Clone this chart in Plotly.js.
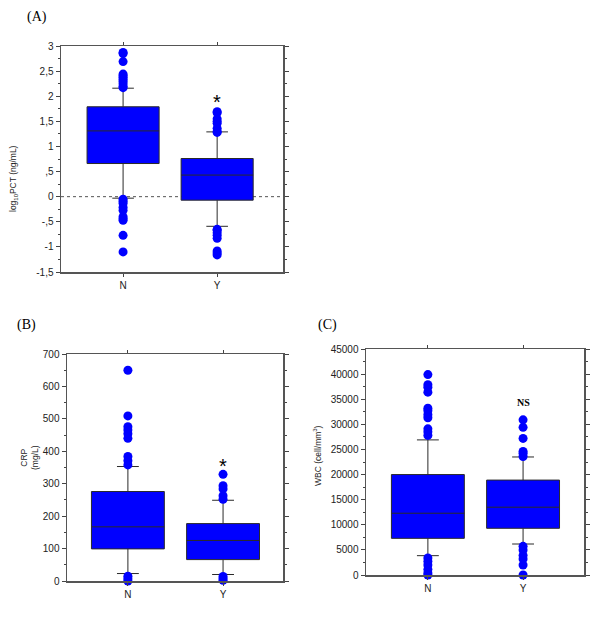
<!DOCTYPE html>
<html>
<head>
<meta charset="utf-8">
<script src="https://cdn.plot.ly/plotly-3.0.1.min.js"></script>
<style>html,body{margin:0;padding:0;background:#fff;}#chart{width:600px;height:634px;}</style>
</head>
<body>
<div id="chart"></div>
<script>
// ---- data ----
const groups = ['N', 'Y'];

// (A) log10 PCT (ng/mL)
const pctQ1 = [0.66, -0.07];
const pctMedian = [1.31, 0.43];
const pctQ3 = [1.79, 0.76];
const pctLowWhisker = [-0.03, -0.59];
const pctHighWhisker = [2.16, 1.29];
const pctOutliersN = [2.87, 2.85, 2.69, 2.44, 2.41, 2.38, 2.34, 2.30, 2.25, 2.20, 2.17, -0.05, -0.09, -0.13, -0.21, -0.27, -0.40, -0.44, -0.47, -0.77, -1.10];
const pctOutliersY = [1.69, 1.67, 1.55, 1.50, 1.46, 1.36, 1.30, 1.28, -0.65, -0.67, -0.72, -0.77, -0.83, -1.08, -1.12, -1.16];

// (B) CRP (mg/L)
const crpQ1 = [99, 66];
const crpMedian = [167, 125];
const crpQ3 = [276, 177];
const crpLowWhisker = [23, 20];
const crpHighWhisker = [353, 249];
const crpOutliersN = [650, 509, 476, 466, 454, 440, 384, 371, 358, 15, 7, 0];
const crpOutliersY = [329, 294, 284, 263, 252, 14, 8, 2];

// (C) WBC (cell/mm3)
const wbcQ1 = [7300, 9300];
const wbcMedian = [12300, 13500];
const wbcQ3 = [20000, 18900];
const wbcLowWhisker = [3850, 6170];
const wbcHighWhisker = [26900, 23500];
const wbcOutliersN = [39900, 37900, 37400, 36400, 33200, 32700, 31900, 31300, 29100, 28500, 27800, 3400, 2700, 2000, 1100, 400, 0];
const wbcOutliersY = [30900, 29400, 27200, 24600, 24200, 23600, 5700, 5000, 3900, 3200, 2000, 0];

// tick labels
const pctTickVals = [3, 2.5, 2, 1.5, 1, 0.5, 0, -0.5, -1, -1.5];
const pctTickText = ['3', '2,5', '2', '1,5', '1', ',5', '0', '-,5', '-1', '-1,5'];
const crpTickVals = [0, 100, 200, 300, 400, 500, 600, 700];
const crpTickText = ['0', '100', '200', '300', '400', '500', '600', '700'];
const wbcTickVals = [0, 5000, 10000, 15000, 20000, 25000, 30000, 35000, 40000, 45000];
const wbcTickText = ['0', '5000', '10000', '15000', '20000', '25000', '30000', '35000', '40000', '45000'];

// ---- styling helpers ----
const W = 600, H = 634;
const px = v => v / W;
const py = v => 1 - v / H;
const BLUE = '#0000FF';
const FONT = 'Liberation Sans, Arial, sans-serif';
const SERIF = 'Liberation Serif, Times New Roman, serif';

function boxTrace(xa, ya, q1, med, q3, lo, hi) {
  return {
    type: 'box', xaxis: xa, yaxis: ya, x: groups,
    q1: q1, median: med, q3: q3, lowerfence: lo, upperfence: hi,
    boxpoints: false, width: 0.766, whiskerwidth: 0.3,
    fillcolor: BLUE, line: {color: '#2a2a2a', width: 1},
    showlegend: false, hoverinfo: 'skip'
  };
}
function outlierTrace(xa, ya, group, vals) {
  return {
    type: 'scatter', mode: 'markers', xaxis: xa, yaxis: ya,
    x: vals.map(() => group), y: vals,
    marker: {color: BLUE, size: 9, line: {width: 0}},
    cliponaxis: false, showlegend: false, hoverinfo: 'skip'
  };
}

const data = [
  boxTrace('x', 'y', pctQ1, pctMedian, pctQ3, pctLowWhisker, pctHighWhisker),
  outlierTrace('x', 'y', 'N', pctOutliersN),
  outlierTrace('x', 'y', 'Y', pctOutliersY),
  boxTrace('x2', 'y2', crpQ1, crpMedian, crpQ3, crpLowWhisker, crpHighWhisker),
  outlierTrace('x2', 'y2', 'N', crpOutliersN),
  outlierTrace('x2', 'y2', 'Y', crpOutliersY),
  boxTrace('x3', 'y3', wbcQ1, wbcMedian, wbcQ3, wbcLowWhisker, wbcHighWhisker),
  outlierTrace('x3', 'y3', 'N', wbcOutliersN),
  outlierTrace('x3', 'y3', 'Y', wbcOutliersY)
];

function xAxis(domain, anchor, range) {
  return {
    domain: domain, anchor: anchor, type: 'category', categoryorder: 'array', categoryarray: groups,
    range: range, showline: true, linecolor: '#555555', linewidth: 1.5, mirror: 'ticks',
    ticks: 'outside', ticklen: 3, tickcolor: '#444', tickwidth: 1,
    showgrid: false, zeroline: false, fixedrange: true,
    tickfont: {family: FONT, size: 10, color: '#222'}
  };
}
function yAxis(domain, anchor, range, tickvals, ticktext, minorDtick) {
  return {
    domain: domain, anchor: anchor, range: range,
    tickmode: 'array', tickvals: tickvals, ticktext: ticktext,
    showline: true, linecolor: '#555555', linewidth: 1.5, mirror: 'ticks',
    ticks: 'outside', ticklen: 4, tickcolor: '#444', tickwidth: 1,
    showgrid: false, zeroline: false, fixedrange: true,
    tickfont: {family: FONT, size: 10, color: '#222'},
    minor: {tickmode: 'linear', tick0: 0, dtick: minorDtick, ticks: 'outside', ticklen: 2, tickcolor: '#444', showgrid: false}
  };
}

const layout = {
  width: W, height: H,
  margin: {l: 0, r: 0, t: 0, b: 0},
  paper_bgcolor: '#fff', plot_bgcolor: '#fff',
  showlegend: false,
  xaxis: xAxis([px(61), px(283)], 'y', [-0.66, 1.70]),
  yaxis: yAxis([py(272), py(46)], 'x', [-1.5, 3], pctTickVals, pctTickText, 0.25),
  xaxis2: xAxis([px(67), px(283)], 'y2', [-0.64, 1.63]),
  yaxis2: yAxis([py(581), py(354)], 'x2', [0, 700], crpTickVals, crpTickText, 50),
  xaxis3: xAxis([px(366), px(584)], 'y3', [-0.65, 1.64]),
  yaxis3: yAxis([py(575), py(349)], 'x3', [0, 45000], wbcTickVals, wbcTickText, 2500),
  shapes: [
    {type: 'line', xref: 'x domain', yref: 'y', x0: 0, x1: 1, y0: 0, y1: 0,
     line: {color: '#555', width: 1, dash: 'dot'}, layer: 'below'}
  ],
  annotations: [
    {text: '(A)', xref: 'paper', yref: 'paper', x: px(37), y: py(17), xanchor: 'center', yanchor: 'middle',
     showarrow: false, font: {family: SERIF, size: 14, color: '#000'}},
    {text: '(B)', xref: 'paper', yref: 'paper', x: px(26), y: py(325), xanchor: 'center', yanchor: 'middle',
     showarrow: false, font: {family: SERIF, size: 14, color: '#000'}},
    {text: '(C)', xref: 'paper', yref: 'paper', x: px(327), y: py(325), xanchor: 'center', yanchor: 'middle',
     showarrow: false, font: {family: SERIF, size: 14, color: '#000'}},
    {text: 'log<sub>10</sub>PCT (ng/mL)', xref: 'paper', yref: 'paper', x: px(13), y: py(179), textangle: -90,
     xanchor: 'center', yanchor: 'middle', showarrow: false, font: {family: FONT, size: 8.5, color: '#222'}},
    {text: 'CRP<br>(mg/L)', xref: 'paper', yref: 'paper', x: px(30), y: py(458), textangle: -90,
     xanchor: 'center', yanchor: 'middle', showarrow: false, font: {family: FONT, size: 8.5, color: '#222'}},
    {text: 'WBC (cell/mm<sup>3</sup>)', xref: 'paper', yref: 'paper', x: px(317), y: py(456), textangle: -90,
     xanchor: 'center', yanchor: 'middle', showarrow: false, font: {family: FONT, size: 8.5, color: '#222'}},
    {text: '*', xref: 'x', yref: 'y', x: 'Y', y: 1.98, yshift: -5, xanchor: 'center', yanchor: 'middle',
     showarrow: false, font: {family: FONT, size: 20, color: '#000'}},
    {text: '*', xref: 'x2', yref: 'y2', x: 'Y', y: 370, yshift: -5, xanchor: 'center', yanchor: 'middle',
     showarrow: false, font: {family: FONT, size: 20, color: '#000'}},
    {text: '<b>NS</b>', xref: 'x3', yref: 'y3', x: 'Y', y: 34250, xanchor: 'center', yanchor: 'middle',
     showarrow: false, font: {family: SERIF, size: 10, color: '#000'}}
  ]
};

Plotly.newPlot('chart', data, layout, {staticPlot: true, displayModeBar: false});
</script>
</body>
</html>
